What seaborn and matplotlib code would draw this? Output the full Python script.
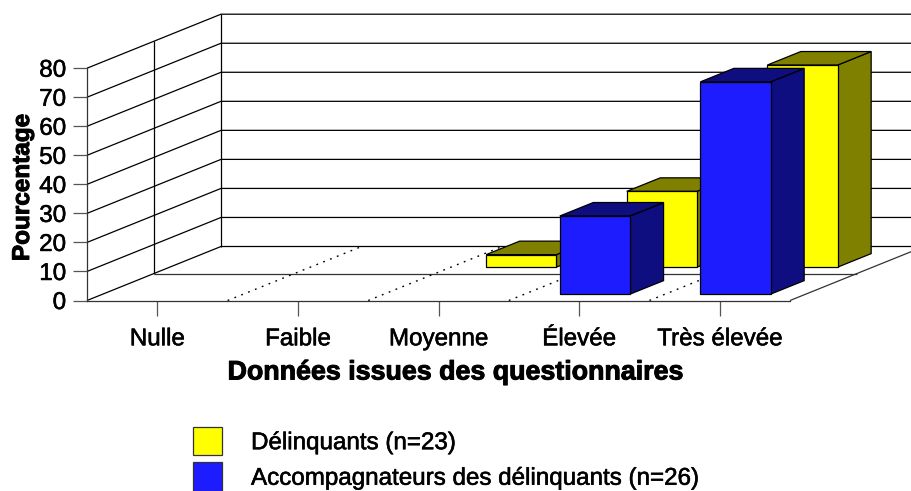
import pandas as pd
import matplotlib.pyplot as plt
import matplotlib.patheffects as pe
import seaborn as sns
from matplotlib.patches import Patch
from matplotlib.transforms import Affine2D

categories = ['Nulle', 'Faible', 'Moyenne', 'Élevée', 'Très élevée']
delinquants = [0, 0, 4.3, 26.1, 69.6]
accompagnateurs = [0, 0, 0, 26.9, 73.1]
y_ticks = [0, 10, 20, 30, 40, 50, 60, 70, 80]

W, H = 911, 491
# plot front plane in pixels
LEFT, RIGHT, TOP, BOTTOM = 87, 790, 68.2, 300.5
# depth of the floor, in data units
DX = 134 / ((RIGHT - LEFT) / 5)
DY = 54 / ((BOTTOM - TOP) / 80)
LINE = 0.9
# the reference text is a little heavier than plain Liberation Sans
HEAVY = [pe.withStroke(linewidth=0.4, foreground='black')]
HEAVY_BOLD = [pe.withStroke(linewidth=0.7, foreground='black')]


def project(x, depth, value):
    # oblique projection: depth 0 is the front plane, 1 the back wall
    return x + depth * DX, value + depth * DY


def wall_line(ax, pts, **kw):
    xs, ys = zip(*[project(*p) for p in pts])
    kw.setdefault('color', 'black')
    kw.setdefault('lw', LINE)
    ax.plot(xs, ys, clip_on=False, zorder=1, solid_capstyle='butt', **kw)


def draw_row(ax, df, depth, front, dark, z):
    before = len(ax.patches)
    sns.barplot(data=df[df['pct'] > 0], x='cat', y='pct', order=categories, width=0.5,
                color=front, saturation=1, edgecolor='black', linewidth=LINE, ax=ax)
    d0, d1 = depth - 0.125, depth + 0.125
    shift = Affine2D().translate(d0 * DX, d0 * DY) + ax.transData
    for bar in ax.patches[before:]:
        x0, x1 = bar.get_x(), bar.get_x() + bar.get_width()
        h = bar.get_height()
        bar.set_transform(shift)
        bar.set_clip_on(False)
        bar.set_zorder(z + 0.1)
        side = [project(x1, d0, 0), project(x1, d1, 0), project(x1, d1, h), project(x1, d0, h)]
        top = [project(x0, d0, h), project(x1, d0, h), project(x1, d1, h), project(x0, d1, h)]
        for face in (side, top):
            ax.fill(*zip(*face), facecolor=dark, edgecolor='black', lw=LINE,
                    clip_on=False, zorder=z)


def main():
    sns.set_theme(style='white')
    plt.rcParams['font.family'] = ['Liberation Sans', 'DejaVu Sans']

    fig = plt.figure(figsize=(W / 100, H / 100), dpi=100)
    ax = fig.add_axes([LEFT / W, 1 - BOTTOM / H, (RIGHT - LEFT) / W, (BOTTOM - TOP) / H])

    df_d = pd.DataFrame({'cat': categories, 'pct': delinquants})
    df_a = pd.DataFrame({'cat': categories, 'pct': accompagnateurs})
    draw_row(ax, df_d, 0.743, '#FFFF00', '#808000', 3)
    draw_row(ax, df_a, 0.243, '#1C1CFF', '#0E0E80', 5)

    ax.set_xlim(-0.5, 4.5)
    ax.set_ylim(0, 80)
    lo, hi = -0.5, 4.5

    # side wall, back wall and floor
    for v in y_ticks:
        wall_line(ax, [(lo, 0, v), (lo, 1, v), (hi, 1, v)])
    wall_line(ax, [(lo, 0.5, 0), (lo, 0.5, 80)])
    wall_line(ax, [(lo, 1, 0), (lo, 1, 80)])
    wall_line(ax, [(lo, 0.5, 0), (hi, 0.5, 0)], color='#333333')
    wall_line(ax, [(hi, 0, 0), (hi, 1, 0)], color='#333333')
    for i in range(1, 5):
        wall_line(ax, [(lo + i, 0, 0), (lo + i, 1, 0)], color='black', lw=1.0, ls=(0, (1.3, 4)))

    sns.despine(ax=ax, top=True, right=True)
    for name in ('left', 'bottom'):
        ax.spines[name].set_color('#333333')
        ax.spines[name].set_linewidth(LINE)
    ax.set_yticks(y_ticks)
    ax.set_xticks(range(len(categories)))
    ax.set_xticklabels(categories)
    ax.tick_params(axis='y', length=10, width=LINE, color='#555555', pad=5, labelsize=17.4, left=True,
                   labelcolor='black')
    ax.tick_params(axis='x', length=11, width=LINE, color='#555555', pad=9, labelsize=17.4, bottom=True,
                   labelcolor='black')

    ax.set_xlabel('Données issues des questionnaires', fontsize=19.3, fontweight='bold', color='black',
                  va='center')
    ax.xaxis.set_label_coords((454.5 - LEFT) / (RIGHT - LEFT), (BOTTOM - 372.5) / (BOTTOM - TOP))
    ax.set_ylabel('Pourcentage', fontsize=17.5, fontweight='bold', color='black', va='center')
    ax.yaxis.set_label_coords((22.5 - LEFT) / (RIGHT - LEFT), (BOTTOM - 187.5) / (BOTTOM - TOP))

    handles = [Patch(facecolor='#FFFF00', edgecolor='#333333', lw=LINE),
               Patch(facecolor='#1C1CFF', edgecolor='#333333', lw=LINE)]
    leg = fig.legend(handles, ['Délinquants (n=23)', 'Accompagnateurs des délinquants (n=26)'],
                     loc='lower left', bbox_to_anchor=(193 / W, 0), frameon=False, fontsize=17.4,
                     handlelength=1.2, handleheight=1.44, handletextpad=1.2, labelspacing=0.29,
                     borderpad=0, borderaxespad=0, labelcolor='black')

    for t in ax.get_xticklabels() + ax.get_yticklabels() + leg.get_texts():
        t.set_path_effects(HEAVY)
    ax.xaxis.label.set_path_effects(HEAVY_BOLD)
    ax.yaxis.label.set_path_effects(HEAVY_BOLD)

    fig.savefig('out.png', dpi=100)
    plt.close(fig)


if __name__ == "__main__":
    main()
